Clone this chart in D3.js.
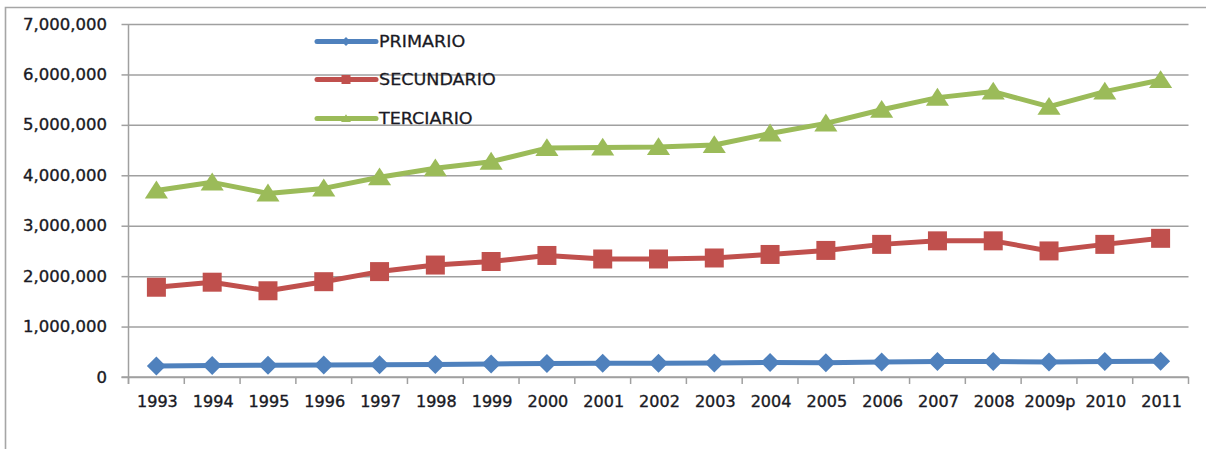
<!DOCTYPE html>
<html><head><meta charset="utf-8">
<script src="https://cdn.jsdelivr.net/npm/d3@7"></script>
<style>
body{margin:0;background:#fff;}
svg{display:block;}
</style></head>
<body>
<svg id="c" width="1206" height="449"></svg>
<script>
const categories = ["1993","1994","1995","1996","1997","1998","1999","2000","2001","2002","2003","2004","2005","2006","2007","2008","2009p","2010","2011"];
const primario   = [220000,230000,235000,240000,245000,250000,260000,270000,275000,275000,280000,290000,285000,295000,305000,305000,295000,305000,310000];
const secundario = [1780000,1880000,1710000,1890000,2090000,2220000,2290000,2410000,2340000,2340000,2360000,2430000,2510000,2630000,2700000,2700000,2500000,2630000,2750000];
const terciario  = [3700000,3860000,3640000,3740000,3960000,4140000,4270000,4540000,4550000,4560000,4600000,4830000,5030000,5300000,5540000,5660000,5360000,5660000,5890000];
const yTicks = [0,1000000,2000000,3000000,4000000,5000000,6000000,7000000];
const seriesNames = ["PRIMARIO","SECUNDARIO","TERCIARIO"];

const series = [
  {name: seriesNames[0], values: primario,   color: "#4F81BD", marker: "diamond"},
  {name: seriesNames[1], values: secundario, color: "#C0504D", marker: "square"},
  {name: seriesNames[2], values: terciario,  color: "#9BBB59", marker: "triangle"}
];

const svg = d3.select("#c");
const L = 128.5, R = 1188.5, T = 24, B = 377;
const x = d3.scaleBand().domain(categories).range([L, R]).padding(0);
const y = d3.scaleLinear().domain([0, 7000000]).range([B, T]);
const fmt = d3.format(",");
const FONT = "DejaVu Sans";
const TXT = "#1a1a24";

// outer frame
svg.append("path").attr("d", "M5.5,449 L5.5,7.5 L1206,7.5")
  .attr("fill","none").attr("stroke","#a6a6a6").attr("stroke-width",1.6);

// gridlines + y ticks
const gy = svg.append("g").attr("transform", `translate(${L},0)`)
  .call(d3.axisLeft(y).tickValues(yTicks).tickSize(-(R - L)).tickFormat(""));
gy.select(".domain").remove();
gy.selectAll(".tick line").attr("stroke","#a0a0a0").attr("stroke-width",1.5);
const gy2 = svg.append("g").attr("transform", `translate(${L},0)`)
  .call(d3.axisLeft(y).tickValues(yTicks).tickSize(7).tickFormat(""));
gy2.select(".domain").remove();
gy2.selectAll(".tick line").attr("stroke","#a0a0a0").attr("stroke-width",1.5);

// y labels
svg.append("g").selectAll("text").data(yTicks).join("text")
  .attr("transform", d => `translate(107,${y(d) + 5.5}) scale(1.1,1)`)
  .attr("text-anchor","end").attr("font-family",FONT).attr("font-size",15)
  .attr("fill",TXT).attr("stroke",TXT).attr("stroke-width",0.35).text(d => fmt(d));

// y axis line
svg.append("line").attr("x1",L).attr("x2",L).attr("y1",T).attr("y2",B + 7)
  .attr("stroke","#a0a0a0").attr("stroke-width",1.5);

// x axis line + ticks at band boundaries
svg.append("line").attr("x1",L - 7).attr("x2",R).attr("y1",B).attr("y2",B)
  .attr("stroke","#a0a0a0").attr("stroke-width",1.5);
const bounds = categories.map(c => x(c)).concat([R]);
svg.append("g").selectAll("line").data(bounds).join("line")
  .attr("x1", d => d).attr("x2", d => d).attr("y1", B).attr("y2", B + 7)
  .attr("stroke","#a0a0a0").attr("stroke-width",1.5);

// x labels
const bw = x.bandwidth();
svg.append("g").selectAll("text").data(categories).join("text")
  .attr("transform", d => `translate(${x(d) + bw/2 + 1},407) scale(1.07,1)`)
  .attr("text-anchor","middle").attr("font-family",FONT).attr("font-size",15)
  .attr("fill",TXT).attr("stroke",TXT).attr("stroke-width",0.35).text(d => d);

function markerPath(type, s) {
  if (type === "diamond") return `M0,${-s} L${s},0 L0,${s} L${-s},0 Z`;
  if (type === "square") return `M${-s},${-s} L${s},${-s} L${s},${s} L${-s},${s} Z`;
  const h = s * 1.7;
  return `M0,${-h*0.55} L${s*1.1},${h*0.45} L${-s*1.1},${h*0.45} Z`;
}

const line = d3.line().x((d,i) => x(categories[i]) + bw/2).y(d => y(d));
series.forEach(s => {
  svg.append("path").datum(s.values).attr("d", line)
    .attr("fill","none").attr("stroke", s.color).attr("stroke-width",5)
    .attr("stroke-linejoin","round");
  const size = s.marker === "triangle" ? 10.5 : 9.5;
  svg.append("g").selectAll("path").data(s.values).join("path")
    .attr("transform", (d,i) => `translate(${x(categories[i]) + bw/2},${y(d)})`)
    .attr("d", markerPath(s.marker, size)).attr("fill", s.color);
});

// legend
const legY = [41.5, 79.5, 118.5];
const lg = svg.append("g");
series.forEach((s, i) => {
  const g = lg.append("g").attr("transform", `translate(0,${legY[i]})`);
  g.append("line").attr("x1",317).attr("x2",376).attr("y1",0).attr("y2",0)
    .attr("stroke", s.color).attr("stroke-width",5).attr("stroke-linecap","round");
  g.append("path").attr("transform","translate(346,0)")
    .attr("d", markerPath(s.marker, 4.5)).attr("fill", s.color);
  g.append("text").attr("transform","translate(379,5.5) scale(1.17,1)")
    .attr("font-family",FONT).attr("font-size",15).attr("fill",TXT)
    .attr("stroke",TXT).attr("stroke-width",0.25).text(s.name);
});
</script>
</body></html>
